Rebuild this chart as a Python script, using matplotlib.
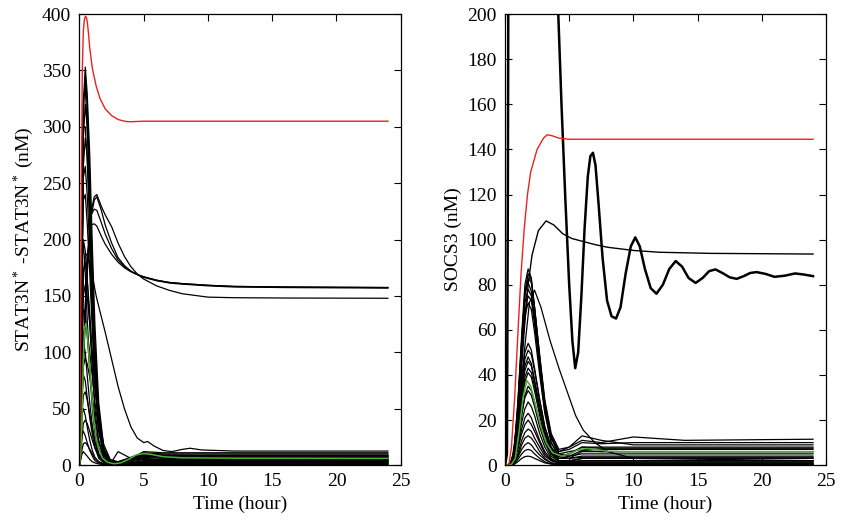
import numpy as np
import matplotlib.pyplot as plt

plt.rcParams['font.family'] = ['Liberation Serif', 'DejaVu Serif']
plt.rcParams['mathtext.fontset'] = 'custom'
plt.rcParams['mathtext.rm'] = 'Liberation Serif'
plt.rcParams['mathtext.it'] = 'Liberation Serif:italic'

# ---------------- left panel: STAT3N*-STAT3N* ----------------
# red curve
t_red_L = [0, 0.08, 0.15, 0.22, 0.3, 0.38, 0.46, 0.54, 0.62, 0.7, 0.8, 1.0, 1.3, 1.6, 2.0, 2.5, 3.0, 3.5, 3.9, 5.0, 8, 24]
v_red_L = [0, 100, 250, 350, 385, 395, 398, 397, 392, 383, 370, 352, 336, 325, 316, 310, 306.5, 305, 304.5, 305, 305, 305]

# green curve
t_green_L = [0, 0.1, 0.2, 0.3, 0.4, 0.5, 0.6, 0.75, 0.9, 1.1, 1.3, 1.5, 1.8, 2.2, 2.7, 3.2, 3.8, 4.4, 5.0, 5.6, 6.5, 8, 12, 24]
v_green_L = [0, 10, 45, 95, 122, 125.7, 118, 95, 70, 42, 24, 14, 6, 2.5, 1.2, 2, 5, 9, 10.3, 9.5, 7.5, 6.5, 6.2, 6]

# the four curves that settle near 150-160
t_mid = [0, 0.3, 0.6, 0.9, 1.15, 1.35, 1.7, 2.0, 2.5, 3.0, 3.5, 4.0, 4.5, 5.0, 6.0, 7.0, 8.0, 10, 12, 16, 24]
mid_1 = [0, 90, 175, 225, 238, 240, 229.5, 222, 211.5, 197, 185, 176, 169.5, 165, 159, 155, 152, 149, 148.5, 148.2, 148]
mid_2 = [0, 85, 170, 220, 235, 238, 226, 213, 197, 184, 177, 172, 169, 167, 164, 162, 161, 159.5, 158.5, 158, 157.5]
mid_3 = [0, 95, 180, 222, 227, 226, 215, 205, 192, 182, 176, 172, 169, 167, 164, 162, 161, 159.5, 158.5, 158, 157.5]
mid_4 = [0, 100, 185, 213, 214, 212, 203, 196, 187, 180, 175, 171.5, 169, 166.5, 163.5, 161.5, 160.5, 159, 158, 157.5, 157]

# slow decaying curve
t_slow = [0, 0.15, 0.3, 0.45, 0.6, 0.8, 1.0, 1.3, 1.6, 2.0, 2.5, 3.0, 3.5, 4.0, 4.5, 5.0, 5.3, 5.8, 6.5, 7.2, 8.0, 8.6, 9.5, 12, 24]
v_slow = [0, 80, 170, 188, 186, 178, 168, 150, 136, 118, 94, 70, 50, 34, 24, 20, 21, 17, 13, 12, 14, 15, 13.5, 12.5, 12.5]

# fast transient bundle
t_bundle_L = [0, 0.1, 0.2, 0.3, 0.45, 0.6, 0.8, 1.0, 1.2, 1.5, 1.9, 2.4, 3.0, 4.0, 5.0, 6.5, 9, 24]
bundle_L = [
    [0, 60, 200, 320, 353, 330, 275, 195, 125, 55, 15, 3, 2, 5, 9, 8, 8, 8],
    [0, 50, 190, 310, 345, 320, 255, 175, 105, 45, 12, 3, 2, 6, 10, 9, 8.5, 8.5],
    [0, 70, 220, 325, 335, 300, 240, 160, 95, 38, 10, 2, 2, 5, 8, 7.5, 7, 7],
    [0, 45, 170, 290, 320, 300, 245, 170, 105, 48, 14, 3, 3, 7, 11, 10, 10, 10],
    [0, 80, 230, 300, 300, 270, 210, 140, 80, 30, 8, 2, 3, 6, 8, 7, 6.5, 6.5],
    [0, 40, 160, 265, 290, 275, 225, 160, 100, 45, 13, 3, 2, 5, 8, 7, 6, 6],
    [0, 55, 180, 255, 265, 240, 190, 130, 80, 35, 10, 2, 2, 4, 6, 5, 5, 5],
    [0, 60, 175, 235, 240, 215, 170, 120, 75, 32, 9, 2, 1, 3, 5, 4, 4, 4],
    [0, 90, 180, 200, 190, 165, 125, 85, 50, 20, 6, 1, 1, 2, 3, 3, 3, 3],
    [0, 110, 185, 195, 170, 130, 85, 50, 28, 10, 3, 1, 1, 1, 2, 2, 2, 2],
    [0, 40, 120, 170, 180, 165, 135, 100, 70, 38, 14, 4, 2, 6, 12, 11, 11, 11],
    [0, 30, 100, 150, 160, 150, 125, 95, 68, 40, 18, 5, 3, 6, 10, 9, 9, 9],
    [0, 50, 115, 138, 135, 115, 85, 58, 35, 15, 5, 1, 12, 6, 5, 5, 5, 5],
    [0, 25, 80, 115, 125, 118, 100, 78, 56, 30, 12, 3, 2, 5, 9, 8, 8, 8],
    [0, 45, 95, 110, 100, 80, 55, 35, 20, 8, 2, 1, 1, 2, 3, 3, 3, 3],
    [0, 20, 60, 88, 95, 90, 78, 60, 42, 22, 8, 2, 2, 4, 7, 6, 6, 6],
    [0, 30, 65, 80, 75, 60, 42, 27, 16, 6, 2, 0.5, 0.5, 1, 2, 2, 2, 2],
    [0, 15, 45, 62, 65, 58, 45, 32, 21, 10, 4, 1, 1, 2, 4, 4, 4, 4],
    [0, 25, 45, 50, 44, 34, 22, 13, 7, 3, 1, 0.5, 0.5, 1, 1, 1, 1, 1],
    [0, 8, 25, 37, 40, 37, 30, 22, 15, 8, 3, 1, 1, 2, 3, 3, 3, 3],
    [0, 15, 27, 30, 26, 20, 13, 8, 4, 2, 0.5, 0.2, 0.2, 0.5, 1, 1, 1, 1],
    [0, 5, 14, 19, 20, 18, 14, 10, 6, 3, 1, 0.5, 0.5, 1, 2, 2, 2, 2],
    [0, 6, 10, 12, 10, 8, 5, 3, 2, 1, 0.5, 0.2, 0.2, 0.3, 0.5, 0.5, 0.5, 0.5],
]

# ---------------- right panel: SOCS3 ----------------
t_red_R = [0, 0.3, 0.5, 0.75, 1.0, 1.25, 1.5, 1.75, 2.0, 2.5, 3.0, 3.3, 3.7, 4.2, 5, 6, 24]
v_red_R = [0, 0, 8, 30, 58, 85, 105, 120, 130, 140, 145, 146.5, 146, 145, 144.5, 144.5, 144.5]

t_green_R = [0, 0.5, 0.8, 1.1, 1.4, 1.7, 2.0, 2.4, 2.8, 3.2, 3.7, 4.4, 5.0, 5.7, 6.4, 7.2, 8, 10, 24]
v_green_R = [0, 0.3, 3, 15, 30, 37.5, 35, 26, 17, 10, 5.5, 4, 5, 6.8, 7.4, 6.8, 6.2, 6, 6]

# damped oscillation (goes off the top of the axes early on)
t_osc = [0, 0.15, 0.22, 0.28, 0.4, 1.0, 2.0, 3.0, 3.6, 3.9, 4.15, 4.4, 4.7, 5.0, 5.25, 5.47, 5.7, 5.95, 6.2,
         6.45, 6.65, 6.85, 7.05, 7.3, 7.6, 7.95, 8.3, 8.65, 9.0, 9.4, 9.8, 10.15, 10.5, 10.9, 11.35, 11.8,
         12.3, 12.8, 13.3, 13.8, 14.3, 14.85, 15.4, 15.9, 16.4, 17.0, 17.5, 18.05, 18.6, 19.1, 19.6, 20.3,
         21.0, 21.8, 22.6, 23.3, 24]
v_osc = [0, 5, 120, 260, 400, 600, 600, 480, 330, 260, 200, 160, 118, 80, 55, 43, 50, 75, 105,
         128, 137, 138.5, 133, 115, 92, 73, 66, 65, 70, 85, 97, 101, 97, 87, 78.5, 76,
         80, 87, 90.5, 88, 83, 80.8, 83, 86, 86.8, 85, 83.3, 82.6, 83.8, 85.2, 85.6, 84.8,
         83.5, 84, 85, 84.5, 83.8]

# curve peaking near 108 and settling at ~94
t_b = [0, 0.5, 1.0, 1.5, 1.8, 2.1, 2.6, 3.2, 3.8, 4.5, 5.2, 6.0, 7, 8, 10, 12, 16, 24]
v_b = [0, 0.5, 20, 60, 80, 93, 104, 108.3, 106.5, 102.6, 100.5, 99.3, 97.8, 96.6, 95.2, 94.4, 93.9, 93.6]

# slow decaying curve
t_c = [0, 0.5, 1.0, 1.5, 1.9, 2.3, 2.8, 3.5, 4.2, 4.8, 5.5, 6.1, 7, 8, 10, 24]
v_c = [0, 0.5, 15, 50, 72, 77.6, 70, 55.4, 43, 33.3, 22, 15.5, 10, 6, 3, 2]

t_bundle_R = [0, 0.4, 0.7, 1.0, 1.3, 1.55, 1.8, 2.05, 2.3, 2.7, 3.1, 3.6, 4.2, 5.0, 6.0, 7.5, 10, 14, 24]
bundle_R = [
    [0, 0.5, 6, 28, 58, 80, 87, 83, 70, 47, 27, 12, 6, 8, 11, 10, 12.5, 11, 11.5],
    [0, 0.5, 5, 25, 55, 77, 85, 82, 70, 48, 28, 13, 6, 7, 10, 9.5, 10, 10, 10],
    [0, 0.4, 4, 22, 52, 75, 83, 81, 70, 49, 29, 14, 7, 8, 13, 11, 9, 9, 9],
    [0, 0.5, 6, 27, 56, 76, 81, 77, 65, 43, 24, 10, 4, 5, 8, 8, 8, 8, 8],
    [0, 0.4, 5, 24, 52, 72, 78, 75, 64, 44, 26, 12, 5, 6, 7, 7, 7, 7, 7],
    [0, 0.4, 4, 21, 48, 68, 75, 73, 63, 44, 26, 12, 5, 4, 5, 5, 5, 5, 5],
    [0, 0.4, 5, 23, 49, 66, 72, 69, 59, 40, 23, 10, 4, 3, 3.5, 3.5, 3.5, 3.5, 3.5],
    [0, 0.3, 4, 19, 39, 50, 54, 51, 43, 29, 17, 8, 4, 5, 8, 7.5, 7.5, 7.5, 7.5],
    [0, 0.3, 3, 16, 35, 47, 51, 49, 42, 29, 17, 8, 3, 3, 4, 4, 4, 4, 4],
    [0, 0.3, 4, 17, 34, 44, 48, 45, 38, 26, 15, 7, 3, 3, 6, 6, 6, 6, 6],
    [0, 0.3, 3, 15, 31, 42, 46, 44, 37, 25, 14, 6, 2, 1.5, 2, 2, 2, 2, 2],
    [0, 0.3, 3, 14, 29, 39, 43, 41, 35, 24, 14, 6, 3, 4, 6.5, 6, 6, 6, 6],
    [0, 0.3, 3, 14, 28, 37, 41, 39, 33, 22, 12, 5, 2, 2, 3, 3, 3, 3, 3],
    [0, 0.2, 2, 11, 23, 31, 35, 33, 28, 19, 11, 5, 2, 1, 1, 1, 1, 1, 1],
    [0, 0.2, 2, 11, 22, 30, 33, 31, 26, 17, 10, 4, 1.5, 1, 1.5, 1.5, 1.5, 1.5, 1.5],
    [0, 0.2, 2, 9, 19, 25, 28, 26, 22, 14, 8, 3, 1, 0.5, 0.5, 0.5, 0.5, 0.5, 0.5],
    [0, 0.2, 2, 8, 16, 21, 23, 21, 17, 11, 6, 2.5, 1, 1, 2, 2, 2, 2, 2],
    [0, 0.2, 1.5, 7, 14, 18, 20, 18, 15, 10, 5, 2, 1, 1.5, 3, 3, 3, 3, 3],
    [0, 0.1, 1, 5, 11, 14.5, 16, 15, 12, 8, 4, 2, 1, 1, 1, 1, 1, 1, 1],
    [0, 0.1, 1, 4, 9, 12, 13, 12, 10, 6, 3, 1, 0.5, 0.5, 0.5, 0.5, 0.5, 0.5, 0.5],
    [0, 0.1, 1, 3.5, 7, 9, 10, 9, 7, 4.5, 2.5, 1, 0.5, 0.3, 0.3, 0.3, 0.3, 0.3, 0.3],
    [0, 0.1, 0.5, 2.5, 5, 6.5, 7, 6.5, 5, 3, 1.5, 0.5, 0.3, 0.3, 0.3, 0.3, 0.3, 0.3, 0.3],
    [0, 0.1, 0.3, 1.5, 3, 3.8, 4, 3.7, 3, 2, 1, 0.5, 0.3, 0.3, 0.3, 0.3, 0.3, 0.3, 0.3],
]

RED = '#e8231f'
GREEN = '#48b02c'
FS = 14

fig = plt.figure(figsize=(8.41, 5.31), dpi=100)
ax1 = fig.add_axes([0.0945, 0.124, 0.382, 0.8495])
ax2 = fig.add_axes([0.6005, 0.124, 0.3815, 0.8495])

# left
for v in bundle_L:
    ax1.plot(t_bundle_L, v, color='black', lw=0.9)
for v in (mid_1, mid_2, mid_3, mid_4):
    ax1.plot(t_mid, v, color='black', lw=0.9)
ax1.plot(t_slow, v_slow, color='black', lw=0.9)
ax1.plot(t_green_L, v_green_L, color=GREEN, lw=1.1)
ax1.plot(t_red_L, v_red_L, color=RED, lw=1.0)
ax1.set_ylim(0, 400)
ax1.set_yticks(np.arange(0, 401, 50))
ax1.set_ylabel('STAT3N$^*$ -STAT3N$^*$ (nM)', fontsize=FS, labelpad=4)

# right
for v in bundle_R:
    ax2.plot(t_bundle_R, v, color='black', lw=0.9)
ax2.plot(t_c, v_c, color='black', lw=0.9)
ax2.plot(t_b, v_b, color='black', lw=1.0)
ax2.plot(t_osc, v_osc, color='black', lw=1.8)
ax2.plot(t_green_R, v_green_R, color=GREEN, lw=1.1)
ax2.plot(t_red_R, v_red_R, color=RED, lw=1.0)
ax2.set_ylim(0, 200)
ax2.set_yticks(np.arange(0, 201, 20))
ax2.set_ylabel('SOCS3 (nM)', fontsize=FS, labelpad=4)

for ax in (ax1, ax2):
    ax.set_xlim(0, 25)
    ax.set_xticks(np.arange(0, 26, 5))
    ax.set_xlabel('Time (hour)', fontsize=FS, labelpad=4)
    ax.tick_params(direction='in', top=True, right=True, length=5, width=0.8,
                   labelsize=FS, pad=6)
    for s in ax.spines.values():
        s.set_linewidth(0.9)

fig.savefig('out.png', dpi=100)
